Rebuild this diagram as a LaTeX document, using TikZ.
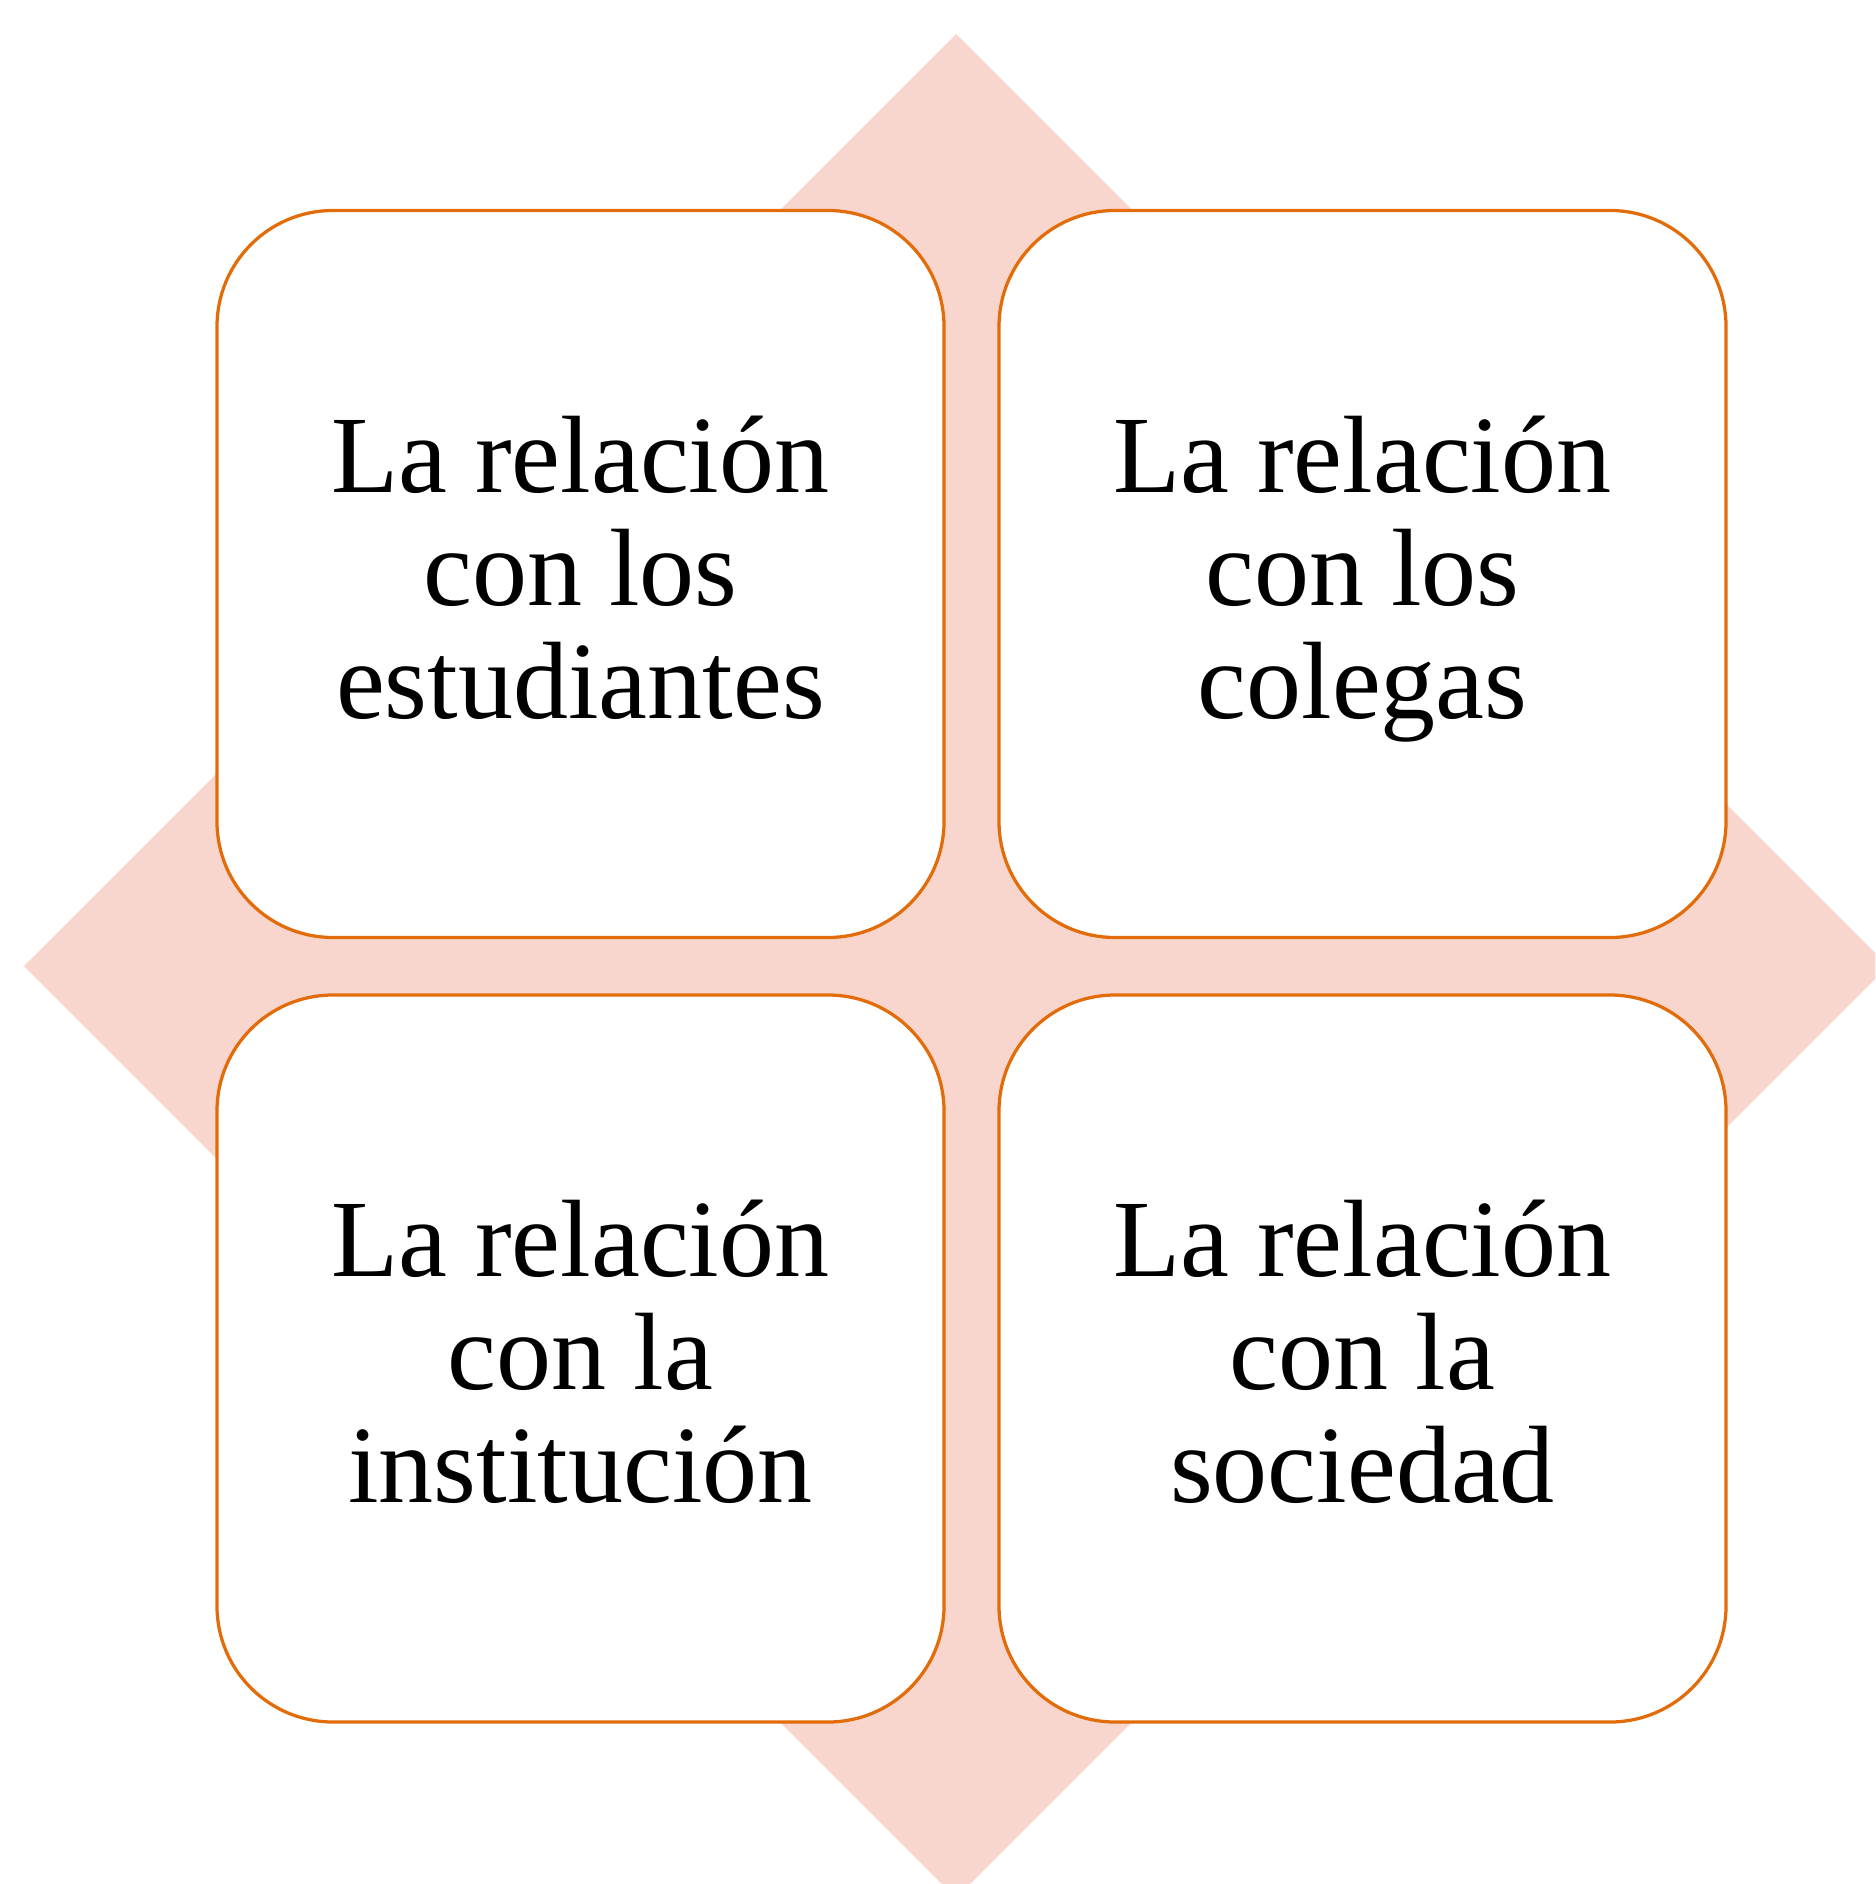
\documentclass[tikz,border=0pt]{standalone}
\usepackage{fontspec}
\setmainfont{Liberation Serif}
\definecolor{boxline}{RGB}{226,108,10}
\definecolor{diamondfill}{RGB}{249,214,205}
\tikzset{
  relbox/.style={draw=boxline, fill=white, line width=1.3pt, rounded corners=46.4pt,
    minimum width=290.8pt, minimum height=290.8pt, inner sep=0pt, align=center,
    font=\fontsize{44}{45.2}\selectfont},
}
\newcommand{\lnstrut}{\rule[-10pt]{0pt}{45pt}}
\begin{document}
\begin{tikzpicture}[x=0.4pt,y=-0.4pt]
\useasboundingbox (0,0) rectangle (1875,1884);
\clip (0,0) rectangle (1875,1884);
\fill[diamondfill] (956,34) -- (1888,966) -- (956,1898) -- (24,966) -- cycle;
\node[relbox] (est) at (580.5,574) {\lnstrut La relación\\\lnstrut con los\\\lnstrut estudiantes};
\node[relbox] (col) at (1362.5,574) {\lnstrut La relación\\\lnstrut con los\\\lnstrut colegas};
\node[relbox] (ins) at (580.5,1358.5) {\lnstrut La relación\\\lnstrut con la\\\lnstrut institución};
\node[relbox] (soc) at (1362.5,1358.5) {\lnstrut La relación\\\lnstrut con la\\\lnstrut sociedad};
\end{tikzpicture}
\end{document}
